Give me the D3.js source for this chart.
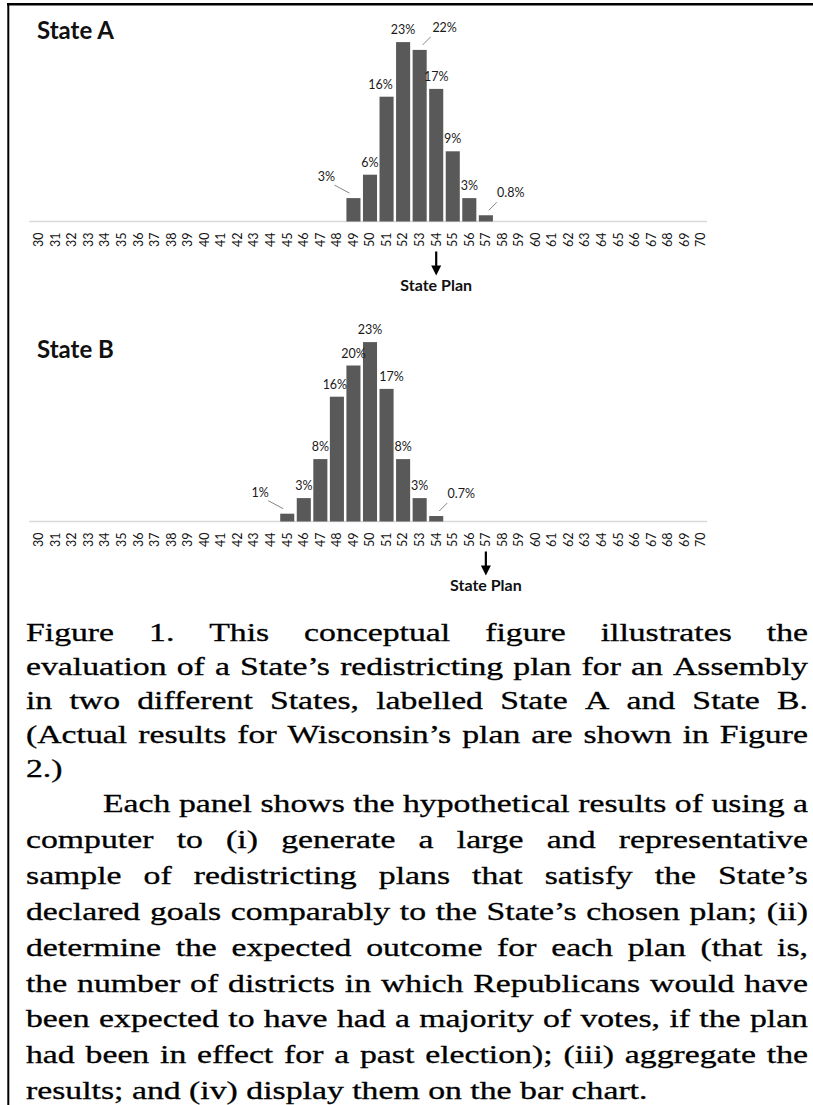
<!DOCTYPE html>
<html><head><meta charset="utf-8">
<script src="https://cdn.jsdelivr.net/npm/d3@7"></script>
<style>body{margin:0;background:#fff} svg{display:block}</style>
</head><body>
<script>
// ---- data ----
const seatTicks = ["30","31","32","33","34","35","36","37","38","39","40","41","42","43","44","45","46","47","48","49","50","51","52","53","54","55","56","57","58","59","60","61","62","63","64","65","66","67","68","69","70"];
const stateASeats = ["49","50","51","52","53","54","55","56","57"];
const stateAPct   = [3, 6, 16, 23, 22, 17, 9, 3, 0.8];
const stateAPlan  = "54";
const stateBSeats = ["45","46","47","48","49","50","51","52","53","54"];
const stateBPct   = [1, 3, 8, 16, 20, 23, 17, 8, 3, 0.7];
const stateBPlan  = "57";
const stateALeaders = {"49":"left","53":"right","57":"right"};
const stateBLeaders = {"45":"left","54":"right"};
const stateANudge = {"51": -6};
const stateBNudge = {"48": -2, "51": 5};
const para1 = "Figure 1. This conceptual figure illustrates the|evaluation of a State’s redistricting plan for an Assembly|in two different States, labelled State A and State B.|(Actual results for Wisconsin’s plan are shown in Figure|2.)";
const para2 = "Each panel shows the hypothetical results of using a|computer to (i) generate a large and representative|sample of redistricting plans that satisfy the State’s|declared goals comparably to the State’s chosen plan; (ii)|determine the expected outcome for each plan (that is,|the number of districts in which Republicans would have|been expected to have had a majority of votes, if the plan|had been in effect for a past election); (iii) aggregate the|results; and (iv) display them on the bar chart.";

const W = 813, H = 1105;
const svg = d3.select("body").append("svg").attr("width", W).attr("height", H);

// border
svg.append("line").attr("x1",7).attr("x2",W).attr("y1",4.3).attr("y2",4.3).attr("stroke","#000").attr("stroke-width",2.4);
svg.append("line").attr("x1",8.3).attr("x2",8.3).attr("y1",3).attr("y2",H).attr("stroke","#000").attr("stroke-width",2);

const x = d3.scaleBand().domain(seatTicks).range([30.7, 709.3]).paddingInner(0.15).paddingOuter(0.075);
const chartFont = "Lato, 'Open Sans', sans-serif";

function panel(title, titleY, axisY, seats, pct, plan, leaders, nudge) {
  const g = svg.append("g");
  const y = d3.scaleLinear().domain([0, 25]).range([axisY, axisY - 25 * 7.8]);
  g.append("text").attr("x", 37).attr("y", titleY).text(title)
    .attr("font-family", chartFont).attr("font-weight", 700).attr("font-size", 24).attr("fill", "#111");
  g.append("line").attr("x1", 29.3).attr("x2", 707).attr("y1", axisY).attr("y2", axisY)
    .attr("stroke", "#d9d9d9").attr("stroke-width", 1.5);
  const data = seats.map((s, i) => ({s, v: pct[i]}));
  g.selectAll("rect.bar").data(data).join("rect").attr("class","bar")
    .attr("x", d => x(d.s)).attr("width", x.bandwidth())
    .attr("y", d => y(d.v)).attr("height", d => axisY - y(d.v))
    .attr("fill", "#595959");
  data.forEach(d => {
    const cx = x(d.s) + x.bandwidth() / 2, top = y(d.v);
    const mode = leaders[d.s];
    let lx = cx + (nudge[d.s] || 0), ly = top - 8;
    if (mode === "left") {
      lx = cx - 27; ly = top - 17;
      g.append("line").attr("x1", cx - 19).attr("y1", top - 13).attr("x2", cx - 4).attr("y2", top - 5)
        .attr("stroke", "#777").attr("stroke-width", 0.9);
    } else if (mode === "right") {
      lx = cx + 25; ly = top - 18;
      g.append("line").attr("x1", cx + 3).attr("y1", top - 5).attr("x2", cx + 11).attr("y2", top - 13)
        .attr("stroke", "#777").attr("stroke-width", 0.9);
    }
    g.append("text").attr("x", lx).attr("y", ly).attr("text-anchor", "middle")
      .attr("font-family", chartFont).attr("font-size", 12.5).attr("fill", "#1a1a1a").text(d.v + "%");
  });
  seatTicks.forEach(t => {
    const cx = x(t) + x.bandwidth() / 2;
    g.append("text").attr("transform", `translate(${cx + 4.3},${axisY + 11}) rotate(-90)`)
      .attr("text-anchor", "end").attr("font-family", chartFont).attr("font-size", 12.5).attr("fill", "#111").text(t);
  });
  const px = x(plan) + x.bandwidth() / 2;
  g.append("line").attr("x1", px).attr("x2", px).attr("y1", axisY + 30).attr("y2", axisY + 45)
    .attr("stroke", "#000").attr("stroke-width", 2.2);
  g.append("path").attr("d", `M${px-5},${axisY+44} L${px+5},${axisY+44} L${px},${axisY+54} Z`).attr("fill", "#000");
  g.append("text").attr("x", px).attr("y", axisY + 69).attr("text-anchor", "middle")
    .attr("font-family", chartFont).attr("font-weight", 700).attr("font-size", 16).attr("fill", "#111").text("State Plan");
}

panel("State A", 39, 221.5, stateASeats, stateAPct, stateAPlan, stateALeaders, stateANudge);
panel("State B", 358, 521.5, stateBSeats, stateBPct, stateBPlan, stateBLeaders, stateBNudge);

// ---- caption text, justified ----
const serif = "'Liberation Serif', 'Times New Roman', serif";
const left = 26, right = 808;
const fs = 25;
const paras = [
  {lines: para1.split("|"), indent: 0, y0: 641, dy: 34},
  {lines: para2.split("|"), indent: 77, y0: 812, dy: 35.9}
];
const meas = svg.append("text").attr("font-family", serif).attr("font-size", fs).attr("visibility", "hidden");
function width(s) { meas.text(s); return meas.node().getComputedTextLength(); }
const spaceW = fs * 0.25;
let maxRatio = 0;
paras.forEach(p => p.lines.forEach((ln, i) => {
  if (i === p.lines.length - 1) return;
  const avail = right - left - (i === 0 ? p.indent : 0);
  const words = ln.split(" ");
  const nat = words.reduce((a, w) => a + width(w), 0) + (words.length - 1) * spaceW * 0.85;
  maxRatio = Math.max(maxRatio, nat / avail);
}));
const sx = Math.max(0.85, Math.min(1.35, 1 / maxRatio));
paras.forEach(p => {
  p.lines.forEach((ln, i) => {
    const words = ln.split(" ");
    const x0 = left + (i === 0 ? p.indent : 0);
    const ws = words.map(w => width(w) * sx);
    const last = i === p.lines.length - 1;
    const gap = last ? spaceW * sx : (right - x0 - d3.sum(ws)) / (words.length - 1);
    let cx = x0;
    const yy = p.y0 + i * p.dy;
    words.forEach((w, k) => {
      svg.append("text").attr("transform", `translate(${cx},${yy}) scale(${sx},1)`)
        .attr("font-family", serif).attr("font-size", fs).attr("fill", "#000")
        .attr("stroke", "#000").attr("stroke-width", 0.3).text(w);
      cx += ws[k] + gap;
    });
  });
});
meas.remove();
</script>
</body></html>
